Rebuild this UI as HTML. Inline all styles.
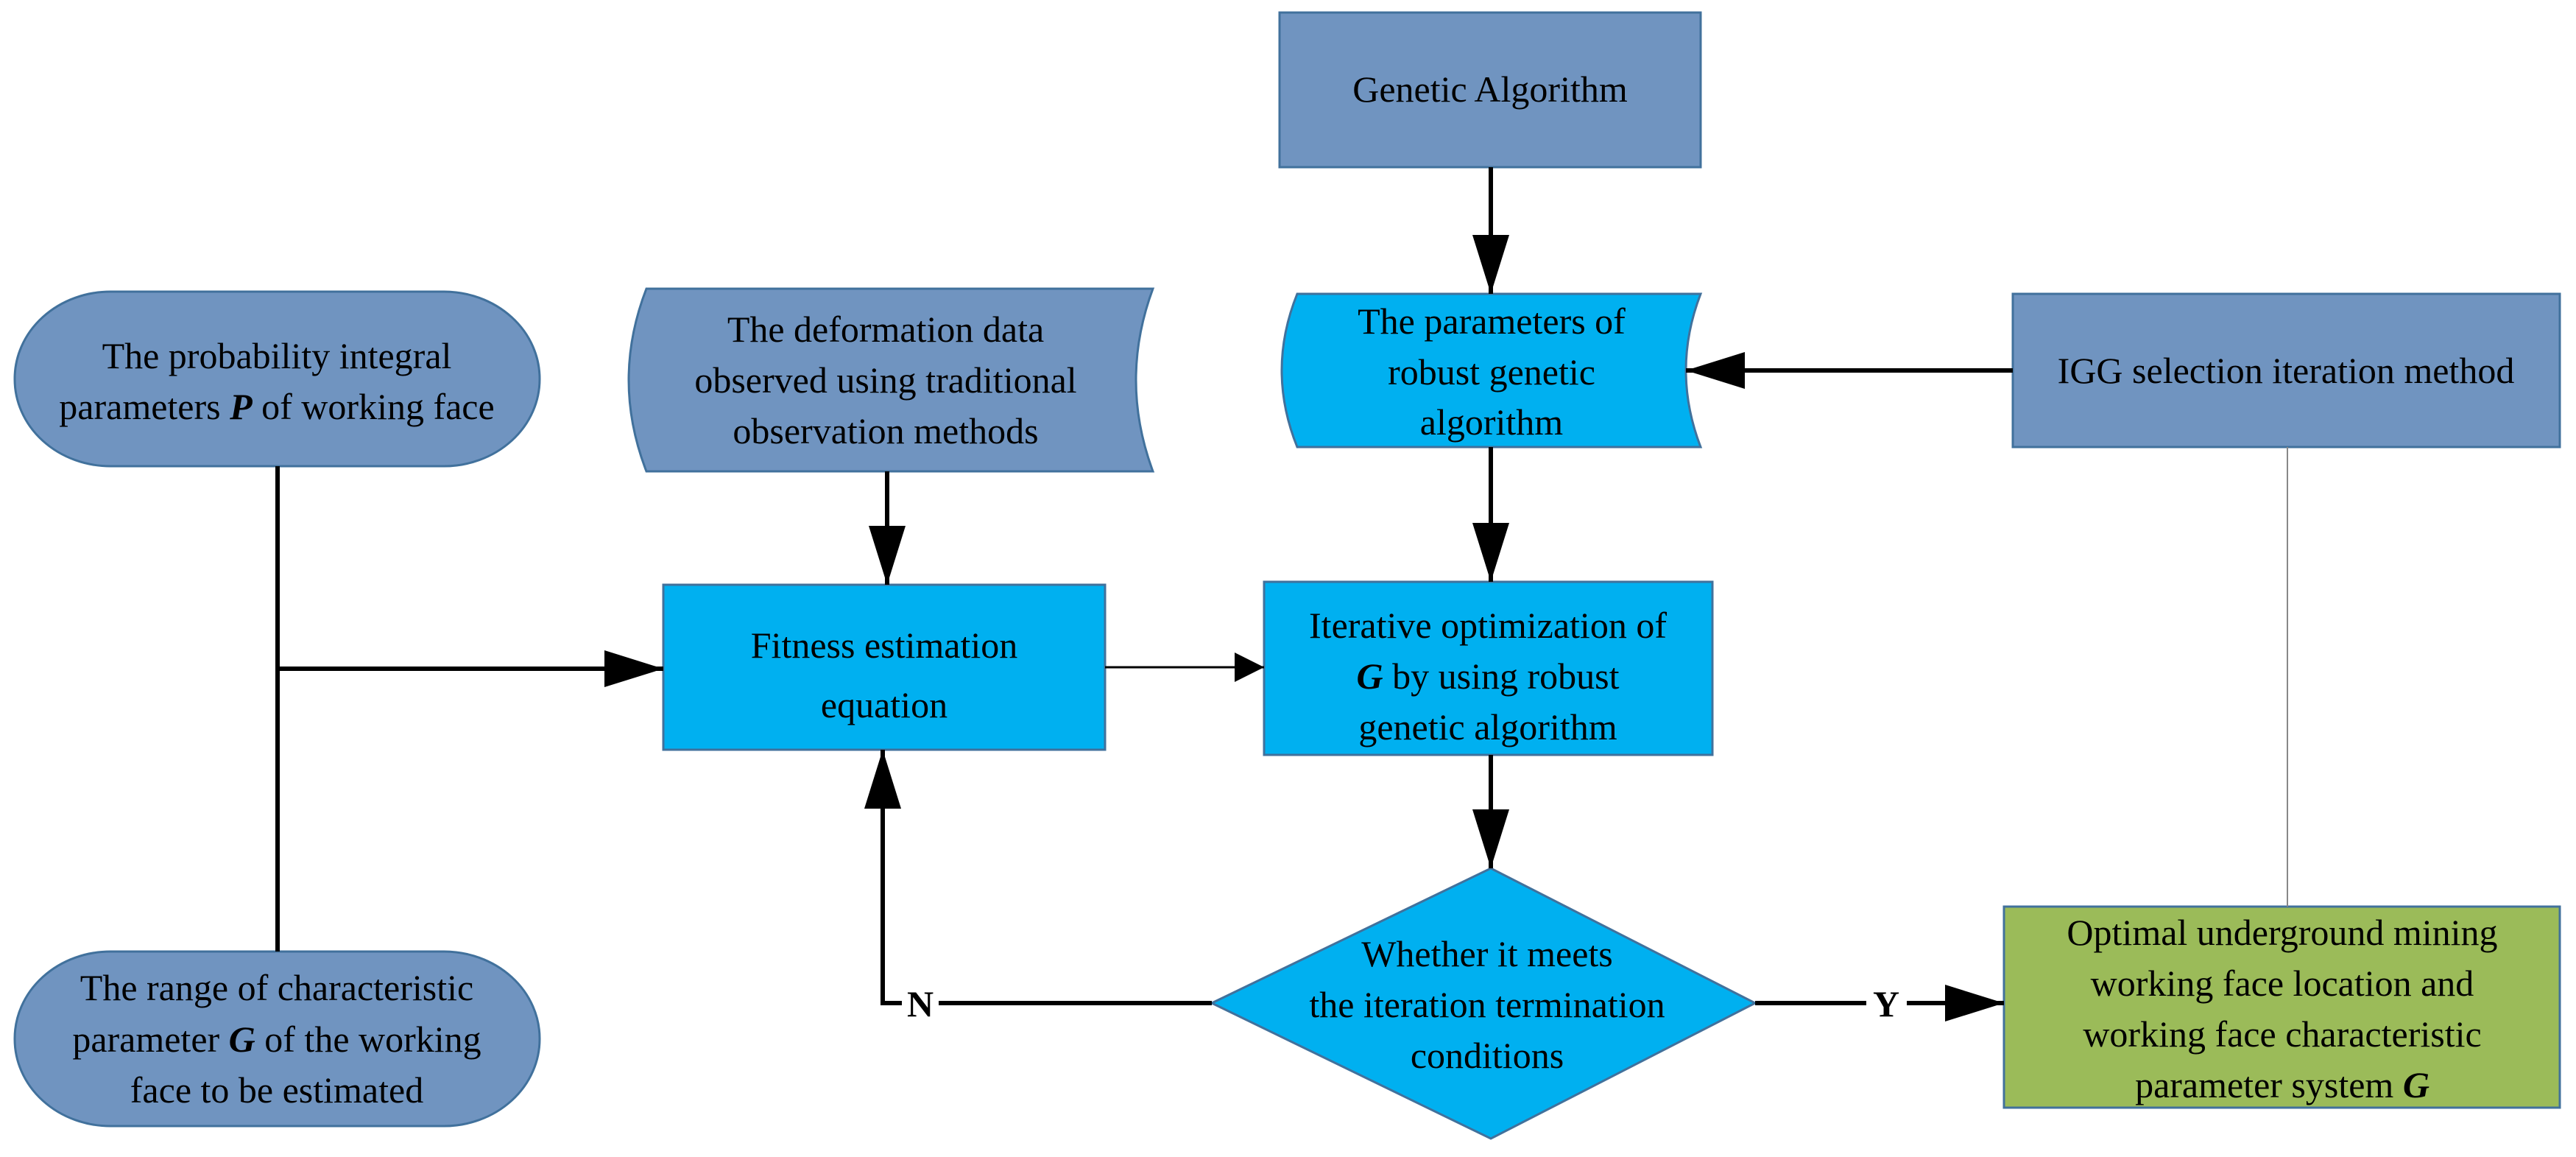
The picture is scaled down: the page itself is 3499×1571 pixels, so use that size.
<!DOCTYPE html>
<html><head><meta charset="utf-8"><style>
html,body{margin:0;padding:0;background:#fff}
svg{display:block}
text{font-family:"Liberation Serif",serif;font-size:50px;fill:#000;text-anchor:middle}
</style></head><body>
<svg width="3499" height="1571" viewBox="0 0 3499 1571" xmlns="http://www.w3.org/2000/svg">
<defs>
<marker id="a" viewBox="0 0 16 10" refX="16" refY="5" markerWidth="80" markerHeight="50" markerUnits="userSpaceOnUse" orient="auto" preserveAspectRatio="none"><path d="M0,0 L16,5 L0,10 z" fill="#000"/></marker>
<marker id="s" viewBox="0 0 10 10" refX="10" refY="5" markerWidth="40" markerHeight="40" markerUnits="userSpaceOnUse" orient="auto"><path d="M0,0 L10,5 L0,10 z" fill="#000"/></marker>
</defs>
<g stroke="#41719c" stroke-width="3">
<rect x="1738" y="17" width="572" height="210" fill="#7094c0"/>
<rect x="20" y="396" width="713" height="237" rx="130" ry="118" fill="#7094c0"/>
<rect x="20" y="1292" width="713" height="237" rx="130" ry="118" fill="#7094c0"/>
<path d="M878,392 L1566,392 Q1520,516 1566,640 L878,640 Q830,516 878,392 z" fill="#7094c0"/>
<path d="M1762,399 L2310,399 Q2270,503 2310,607 L1762,607 Q1720,503 1762,399 z" fill="#00b0f0"/>
<rect x="2734" y="399" width="743" height="208" fill="#7094c0"/>
<rect x="901" y="794" width="600" height="224" fill="#00b0f0"/>
<rect x="1717" y="790" width="609" height="235" fill="#00b0f0"/>
<path d="M2025,1179 L2384,1362 L2025,1546 L1646,1362 z" fill="#00b0f0"/>
<rect x="2722" y="1231" width="755" height="273" fill="#9bbb59"/>
</g>
<g stroke="#000" stroke-width="6" fill="none">
<line x1="2025" y1="227" x2="2025" y2="399" marker-end="url(#a)"/>
<line x1="2025" y1="607" x2="2025" y2="790" marker-end="url(#a)"/>
<line x1="2025" y1="1025" x2="2025" y2="1179" marker-end="url(#a)"/>
<line x1="1205" y1="640" x2="1205" y2="794" marker-end="url(#a)"/>
<line x1="2734" y1="503" x2="2290" y2="503" marker-end="url(#a)"/>
<line x1="377" y1="633" x2="377" y2="1292"/>
<line x1="377" y1="908" x2="901" y2="908" marker-end="url(#a)"/>
<polyline points="1646,1362 1199,1362 1199,1018" marker-end="url(#a)"/>
<line x1="2384" y1="1362" x2="2722" y2="1362" marker-end="url(#a)"/>
</g>
<line x1="1501" y1="906" x2="1717" y2="906" stroke="#000" stroke-width="3" marker-end="url(#s)"/>
<line x1="3107" y1="607" x2="3107" y2="1231" stroke="#888" stroke-width="2"/>
<rect x="1225" y="1335" width="50" height="56" fill="#fff"/>
<rect x="2535" y="1335" width="55" height="56" fill="#fff"/>
<text x="1250" y="1380" font-weight="bold">N</text>
<text x="2562" y="1380" font-weight="bold">Y</text>
<text x="2024" y="138">Genetic Algorithm</text>
<text x="376" y="500">The probability integral</text>
<text x="376" y="569">parameters <tspan font-weight="bold" font-style="italic">P</tspan> of working face</text>
<text x="376" y="1358">The range of characteristic</text>
<text x="376" y="1428">parameter <tspan font-weight="bold" font-style="italic">G</tspan> of the working</text>
<text x="376" y="1497">face  to be estimated</text>
<text x="1203" y="464">The deformation data</text>
<text x="1203" y="533">observed using traditional</text>
<text x="1203" y="602">observation methods</text>
<text x="2026" y="453">The parameters of</text>
<text x="2026" y="522">robust genetic</text>
<text x="2026" y="590">algorithm</text>
<text x="3105" y="520">IGG selection iteration method</text>
<text x="1201" y="893" font-size="64">Fitness estimation</text>
<text x="1201" y="974" font-size="64">equation</text>
<text x="2021" y="866">Iterative optimization of</text>
<text x="2021" y="935"><tspan font-weight="bold" font-style="italic">G</tspan> by using robust</text>
<text x="2021" y="1004">genetic algorithm</text>
<text x="2020" y="1312">Whether it meets</text>
<text x="2020" y="1381">the iteration termination</text>
<text x="2020" y="1450">conditions</text>
<text x="3100" y="1283">Optimal underground mining</text>
<text x="3100" y="1352">working face location and</text>
<text x="3100" y="1421">working face characteristic</text>
<text x="3100" y="1490">parameter system <tspan font-weight="bold" font-style="italic">G</tspan></text>
</svg>
</body></html>
